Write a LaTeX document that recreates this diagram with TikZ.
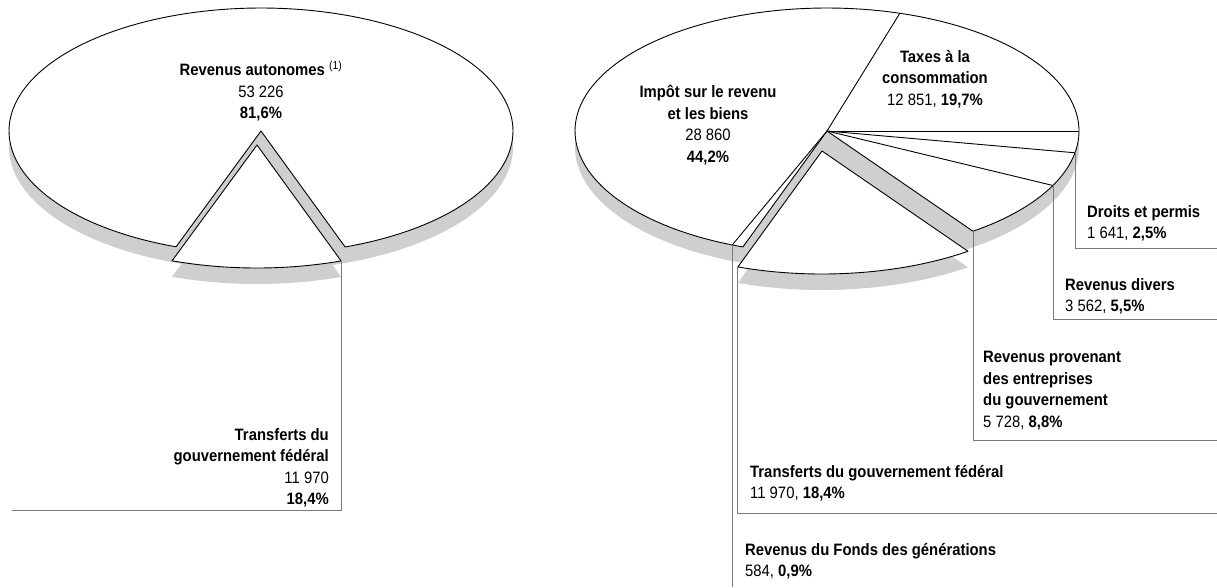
\documentclass[tikz,border=0pt]{standalone}
\usepackage{fontspec}
\setmainfont{Liberation Sans}[FakeStretch=0.9]
\definecolor{shade}{HTML}{CFCFCF}
\definecolor{leadgray}{HTML}{7A7A7A}
\tikzset{
  topface/.style={fill=white, draw=black, line width=0.9pt, line join=round},
  radial/.style={draw=black, line width=0.9pt},
  sideface/.style={fill=shade},
  leader/.style={draw=leadgray, line width=0.8pt},
  lbl/.style={inner sep=0pt, font=\fontsize{16.5}{21.5}\selectfont},
}
\begin{document}
\begin{tikzpicture}[x=1pt,y=-1pt]
\fill[white] (0,0) rectangle (1217,587);
\useasboundingbox (0,0) rectangle (1217,587);

% ---------------- left pie ----------------
\fill[sideface] (261,147) ellipse [x radius=252, y radius=123];
\coordinate (C1) at (261,131);
\filldraw[topface] (C1) -- plot[domain=109.7:430.5, samples=160] ({261+252*cos(\x)},{131+123*sin(\x)}) -- cycle;
% exploded slice
\fill[sideface] (257,161) -- plot[domain=70.5:109.7, samples=40] ({257+252*cos(\x)},{161+123*sin(\x)}) -- cycle;
\coordinate (C1x) at (257,145);
\filldraw[topface] (C1x) -- plot[domain=70.5:109.7, samples=40] ({257+252*cos(\x)},{145+123*sin(\x)}) -- cycle;
\coordinate (ltc) at ({257+252*cos(70.5)},{145+123*sin(70.5)});
\coordinate (ltend) at (12,510);
\draw[leader] (ltc) |- (ltend);

\node[lbl, anchor=north, align=center] (auto) at (261,61)
  {\textbf{Revenus autonomes}~\textsuperscript{(1)}\\53 226\\\textbf{81,6\%}};
\node[lbl, anchor=north east, align=right] (tfl) at (329,428)
  {\textbf{Transferts du}\\\textbf{gouvernement fédéral}\\11 970\\\textbf{18,4\%}};

% ---------------- right pie ----------------
\fill[sideface] (827,147) ellipse [x radius=252, y radius=123];
\coordinate (C2) at (827,131);
\filldraw[topface] (C2) -- plot[domain=109.5:414.6, samples=160] ({827+252*cos(\x)},{131+123*sin(\x)}) -- cycle;
\foreach \a/\n in {112.1/fa, 286.8/ta, 360/tb, 10.2/dr, 26.3/dv, 54.6/en}
  \coordinate (\n) at ({827+252*cos(\a)},{131+123*sin(\a)});
\foreach \n in {fa, ta, tb, dr, dv}
  \draw[radial] (C2) -- (\n);
% exploded slice
\fill[sideface] (822,167) -- plot[domain=54.6:109.5, samples=60] ({822+252*cos(\x)},{167+123*sin(\x)}) -- cycle;
\coordinate (C2x) at (822,151);
\filldraw[topface] (C2x) -- plot[domain=54.6:109.5, samples=60] ({822+252*cos(\x)},{151+123*sin(\x)}) -- cycle;
\coordinate (tl) at ({822+252*cos(109.5)},{151+123*sin(109.5)});

% leaders
\coordinate (drend) at (1217,248);
\coordinate (dvend) at (1217,319);
\coordinate (enend) at (1217,440);
\coordinate (tlend) at (1217,513);
\coordinate (faend) at (732,587);
\draw[leader] (dr) |- (drend);
\draw[leader] (dv) |- (dvend);
\draw[leader] (en) |- (enend);
\draw[leader] (tl) |- (tlend);
\draw[leader] (fa) -- (fa |- faend);

% labels
\node[lbl, anchor=north, align=center] (imp) at (708,85)
  {\textbf{Impôt sur le revenu}\\\textbf{et les biens}\\28 860\\\textbf{44,2\%}};
\node[lbl, anchor=north, align=center] (tax) at (935,50)
  {\textbf{Taxes à la}\\\textbf{consommation}\\12 851, \textbf{19,7\%}};
\node[lbl, anchor=north west, align=left] (dro) at (1087,205)
  {\textbf{Droits et permis}\\1 641, \textbf{2,5\%}};
\node[lbl, anchor=north west, align=left] (div) at (1065,278)
  {\textbf{Revenus divers}\\3 562, \textbf{5,5\%}};
\node[lbl, anchor=north west, align=left] (ent) at (983,351)
  {\textbf{Revenus provenant}\\\textbf{des entreprises}\\\textbf{du gouvernement}\\5 728, \textbf{8,8\%}};
\node[lbl, anchor=north west, align=left] (tfr) at (750,465)
  {\textbf{Transferts du gouvernement fédéral}\\11 970, \textbf{18,4\%}};
\node[lbl, anchor=north west, align=left] (fon) at (745,543)
  {\textbf{Revenus du Fonds des générations}\\584, \textbf{0,9\%}};
\end{tikzpicture}
\end{document}
